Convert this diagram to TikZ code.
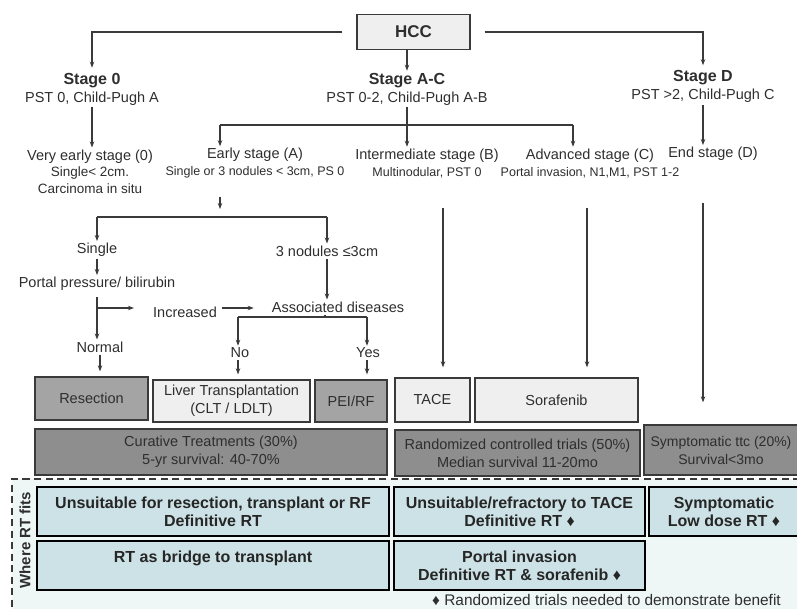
\documentclass[tikz,border=0pt]{standalone}
\usepackage{fontspec}
\setmainfont{Liberation Sans}
\usetikzlibrary{arrows.meta,calc}

\definecolor{linegrey}{HTML}{3A3A3A}
\definecolor{txtgrey}{HTML}{2E2E2E}
\definecolor{palebox}{HTML}{EFEFEF}
\definecolor{midbox}{HTML}{A4A4A4}
\definecolor{darkbox}{HTML}{8E8E8E}
\definecolor{rtfill}{HTML}{CDE2E6}
\definecolor{rtzone}{HTML}{EEF6F6}

\newcommand{\hdfont}{\fontsize{16}{18}\selectfont\bfseries}
\newcommand{\smfont}{\fontsize{12.5}{17}\selectfont}

\tikzset{
	arr/.style={draw=linegrey, line width=1.1pt, -{Stealth[length=6pt,width=4.5pt]}},
	link/.style={draw=linegrey, line width=1.1pt},
	txt/.style={align=center, inner sep=2pt, text=txtgrey, font=\fontsize{14.5}{18}\selectfont},
	box/.style={draw=linegrey, line width=1.3pt, align=center, inner sep=0pt, text=txtgrey, font=\fontsize{14.5}{18}\selectfont},
	palefill/.style={box, fill=palebox},
	midfill/.style={box, fill=midbox},
	darkfill/.style={box, fill=darkbox},
	rtbox/.style={draw=black, line width=2pt, fill=rtfill, align=center, inner sep=0pt, text=black!85, font=\fontsize{16}{18}\selectfont\bfseries}
}

\begin{document}
\begin{tikzpicture}[x=1pt, y=-1pt]
			%%%%% START %%%%%
			\useasboundingbox (0,0) rectangle (797,609);
			
			% stages
			\node[box, fill=palebox, minimum width=113pt, minimum height=35pt, font=\fontsize{17}{18}\selectfont\bfseries] (hcc) at (413.5, 32) {HCC};
			\node[txt] (st0) at (92, 89) {{\hdfont Stage 0}\\PST 0, Child-Pugh A};
			\node[txt] (stAC) at (407, 89) {{\hdfont Stage A-C}\\PST 0-2, Child-Pugh A-B};
			\node[txt] (stD) at (703, 86.5) {{\hdfont Stage D}\\PST >2, Child-Pugh C};
			
			\draw[arr, shorten >=3pt] ([xshift=-14pt]hcc.west) -| (st0.north);
			\draw[arr, shorten >=3pt] ([xshift=14pt]hcc.east) -| (stD.north);
			\draw[arr] (hcc.south -| stAC) -- (stAC.north);
			
			% sub-stages
			\node[txt, font=\fontsize{13.5}{16.5}\selectfont] (vearly) at (90, 171.5) {{\fontsize{14.5}{17}\selectfont Very early stage (0)}\\Single< 2cm.\\Carcinoma in situ};
			\node[txt, font=\fontsize{14.5}{17}\selectfont] (early) at (255, 163.5) {Early stage (A)\\{\smfont Single or 3 nodules < 3cm, PS 0}};
			\node[txt, font=\fontsize{14.5}{17}\selectfont] (inter) at (427, 163.5) {Intermediate stage (B)\\{\smfont Multinodular, PST 0}};
			\node[txt, font=\fontsize{14.5}{17}\selectfont] (adv) at (590, 163.5) {Advanced stage (C)\\{\smfont Portal invasion, N1,M1, PST 1-2}};
			\node[txt] (endD) at (713, 154) {End stage (D)};
			
			\coordinate (acl) at (220, 125);
			\coordinate (acr) at (573, 125);
			\draw[arr] (st0.south) -- (st0.south |- vearly.north);
			\draw[arr] (stAC.south) -- (stAC.south |- inter.north);
			\draw[link] (acl) -- (acr);
			\draw[arr] (acl) -- (acl |- early.north);
			\draw[arr] (acr) -- (acr |- adv.north);
			\draw[arr] (stD.south) -- (stD.south |- endD.north);
			
			% early stage tree
			\node[txt] (single) at (97, 250) {Single};
			\node[txt] (portal) at (97, 284) {Portal pressure/ bilirubin};
			\node[txt] (nod3) at (327, 251) {3 nodules ≤3cm};
			\node[txt] (assoc) at (338, 307) {Associated diseases};
			\node[txt] (incr) at (185, 312) {Increased};
			\node[txt] (normal) at (100, 347) {Normal};
			\node[txt] (no) at (240, 353) {No};
			\node[txt] (yes) at (368, 353) {Yes};
			
			\coordinate (esplit) at (220, 217);
			\coordinate (spl) at (97, 217);
			\coordinate (spr) at (327, 217);
			\coordinate (ppsplit) at (97, 308);
			\coordinate (asplit) at (325, 317);
			\coordinate (noc) at (238, 317);
			\coordinate (yesc) at (367, 317);
			
			\draw[arr, shorten <=16pt, shorten >=8pt] (acl |- early.south) -- (esplit);
			\draw[link] (spl) -- (spr);
			\draw[arr] (spl) -- (single.north);
			\draw[arr] (spr) -- (nod3.north);
			\draw[arr] (single.south) -- (portal.north);
			\draw[arr] (nod3.south) -- (nod3.south |- assoc.north);
			\draw[arr, shorten <=4pt] (portal.south) -- (portal.south |- normal.north);
			\draw[arr, shorten >=17pt] (ppsplit) -- (ppsplit -| incr.west);
			\draw[arr, shorten <=3pt, shorten >=16pt] (ppsplit -| incr.east) -- (ppsplit -| assoc.west);
			\draw[link] (assoc.south -| asplit) -- (asplit);
			\draw[link] (noc) -- (yesc);
			\draw[arr] (noc) -- (noc |- no.north);
			\draw[arr] (yesc) -- (yesc |- yes.north);
			
			% treatments
			\node[midfill, minimum width=113pt, minimum height=43pt] (resec) at (91.5, 398.5) {Resection};
			\node[palefill, minimum width=157pt, minimum height=42pt] (lt) at (231.5, 401) {Liver Transplantation\\(CLT / LDLT)};
			\node[midfill, minimum width=72pt, minimum height=42pt] (pei) at (351, 401) {PEI/RF};
			\node[palefill, minimum width=75pt, minimum height=44pt] (tace) at (432.5, 400) {TACE};
			\node[palefill, minimum width=163pt, minimum height=44pt] (sora) at (556.5, 400) {Sorafenib};
			
			\draw[arr, shorten >=5pt] (normal.south) -- (normal.south |- resec.north);
			\draw[arr, shorten >=5pt] (no.south -| noc) -- (noc |- lt.north);
			\draw[arr, shorten >=5pt] (yes.south -| yesc) -- (yesc |- pei.north);
			\draw[arr, shorten <=28pt, shorten >=10pt] ([xshift=16pt]inter.south) -- ([xshift=16pt]inter.south |- tace.north);
			\draw[arr, shorten <=28pt, shorten >=10pt] ([xshift=-3pt]adv.south) -- ([xshift=-3pt]adv.south |- sora.north);
			
			% outcomes
			\node[darkfill, minimum width=352pt, minimum height=46pt] (cur) at (211, 452) {Curative Treatments (30\%)\\5-yr survival: 40-70\%};
			\node[darkfill, minimum width=245pt, minimum height=46pt] (rct) at (517.5, 453) {Randomized controlled trials (50\%)\\Median survival 11-20mo};
			\node[darkfill, minimum width=154pt, minimum height=50pt, font=\fontsize{14}{18}\selectfont] (symp) at (721, 450) {Symptomatic ttc (20\%)\\Survival<3mo};
			
			\draw[arr, shorten <=40pt, shorten >=22pt] (stD.south |- endD.south) -- (stD.south |- symp.north);
			
			% where RT fits
			\fill[rtzone] (12, 479) rectangle (800, 612);
			\draw[draw=linegrey, line width=1.3pt, dash pattern=on 7pt off 4.5pt] (800, 479) -- (12, 479) -- (12, 612);
			\node[rotate=90, inner sep=0pt, text=txtgrey, font=\fontsize{15}{18}\selectfont\bfseries] (rtfits) at (25, 540) {Where RT fits};
			
			\node[rtbox, minimum width=352pt, minimum height=49pt] (rt1) at (213, 511.5) {Unsuitable for resection, transplant or RF\\Definitive RT};
			\node[rtbox, minimum width=352pt, minimum height=49pt] (rt2) at (213, 565.5) {RT as bridge to transplant\\\mbox{}};
			\node[rtbox, minimum width=251pt, minimum height=49pt] (rt3) at (519.5, 511.5) {Unsuitable/refractory to TACE\\Definitive RT ♦};
			\node[rtbox, minimum width=251pt, minimum height=49pt] (rt4) at (519.5, 565.5) {Portal invasion\\Definitive RT \& sorafenib ♦};
			\node[rtbox, minimum width=150pt, minimum height=49pt] (rt5) at (724, 511.5) {Symptomatic\\Low dose RT ♦};
			
			\node[anchor=west, inner sep=0pt, text=txtgrey, font=\fontsize{15.4}{18}\selectfont] (note) at (432, 600) {♦ Randomized trials needed to demonstrate benefit};
			
			%%%%% END %%%%%
\end{tikzpicture}
\end{document}
